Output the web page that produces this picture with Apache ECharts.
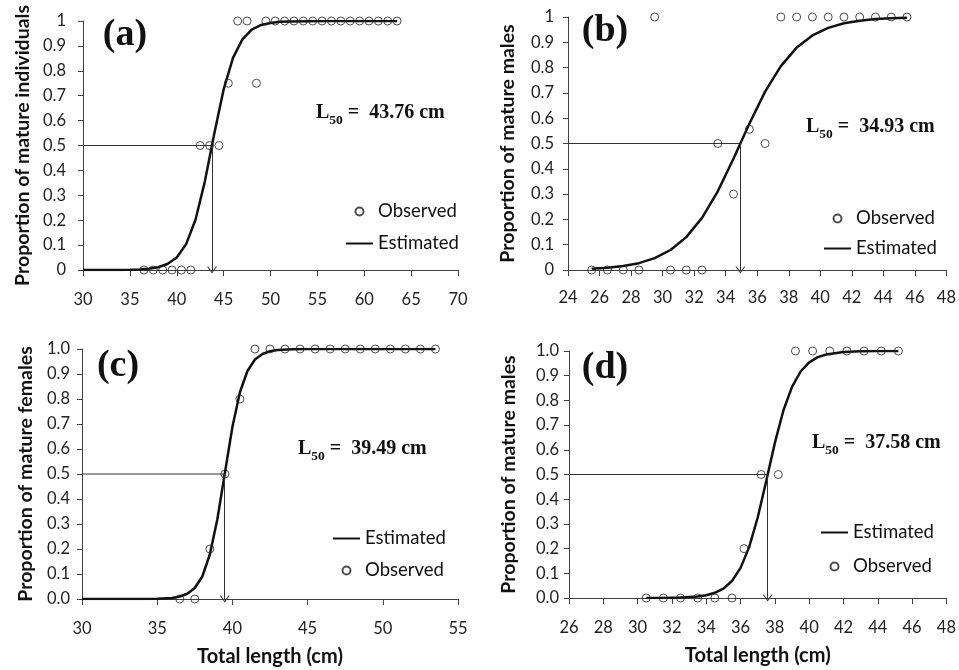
<!DOCTYPE html>
<html>
<head>
<meta charset="utf-8">
<script src="https://cdn.jsdelivr.net/npm/echarts@6/dist/echarts.min.js"></script>
<style>
  html, body { margin: 0; padding: 0; background: #fff; }
  #main { width: 959px; height: 670px; }
</style>
</head>
<body>
<div id="main"></div>
<script>
// panel labels and L50 values
var panelNames = ['(a)', '(b)', '(c)', '(d)'];
var l50 = [43.76, 34.93, 39.49, 37.58];
var yTitles = ['Proportion of mature individuals', 'Proportion of mature males',
               'Proportion of mature females', 'Proportion of mature males'];

// (a) all individuals
var obsAx = [36.5, 37.5, 38.5, 39.5, 40.5, 41.5, 42.5, 43.5, 44.5, 45.5, 46.5, 47.5, 48.5,
             49.5, 50.5, 51.5, 52.5, 53.5, 54.5, 55.5, 56.5, 57.5, 58.5, 59.5, 60.5, 61.5, 62.5, 63.5];
var obsAy = [0, 0, 0, 0, 0, 0, 0.5, 0.5, 0.5, 0.75, 1, 1, 0.75,
             1, 1, 1, 1, 1, 1, 1, 1, 1, 1, 1, 1, 1, 1, 1];
var estAx = [30, 31, 32, 33, 34, 35, 36, 37, 38, 39, 40, 41, 42, 43, 44, 45, 46, 47, 48, 49, 50, 51, 52, 56, 60, 63.5];
var estAy = [0, 0, 0.0001, 0.0002, 0.0005, 0.001, 0.002, 0.005, 0.011, 0.024, 0.05, 0.104, 0.202, 0.356,
             0.547, 0.725, 0.852, 0.926, 0.965, 0.984, 0.992, 0.997, 0.998, 1, 1, 1];

// (b) males
var obsBx = [25.5, 26.5, 27.5, 28.5, 29.5, 30.5, 31.5, 32.5, 33.5, 34.5, 35.5, 36.5,
             37.5, 38.5, 39.5, 40.5, 41.5, 42.5, 43.5, 44.5, 45.5];
var obsBy = [0, 0, 0, 0, 1, 0, 0, 0, 0.5, 0.3, 0.556, 0.5,
             1, 1, 1, 1, 1, 1, 1, 1, 1];
var estBx = [25.5, 26.5, 27.5, 28.5, 29.5, 30.5, 31.5, 32.5, 33.5, 34.5, 35.5, 36.5,
             37.5, 38.5, 39.5, 40.5, 41.5, 42.5, 43.5, 44.5, 45.5];
var estBy = [0.005, 0.009, 0.016, 0.027, 0.047, 0.079, 0.13, 0.206, 0.311, 0.441, 0.578, 0.705,
             0.806, 0.879, 0.927, 0.957, 0.975, 0.985, 0.992, 0.995, 0.997];

// (c) females
var obsCx = [36.5, 37.5, 38.5, 39.5, 40.5, 41.5, 42.5, 43.5, 44.5, 45.5, 46.5, 47.5, 48.5, 49.5, 50.5, 51.5, 52.5, 53.5];
var obsCy = [0, 0, 0.2, 0.5, 0.8, 1, 1, 1, 1, 1, 1, 1, 1, 1, 1, 1, 1, 1];
var estCx = [30, 32, 34, 35, 36, 36.5, 37, 37.5, 38, 38.5, 39, 39.5, 40, 40.5, 41, 41.5, 42, 42.5, 43, 44, 45, 47, 50, 53.5];
var estCy = [0, 0, 0.0002, 0.001, 0.004, 0.01, 0.021, 0.044, 0.09, 0.178, 0.319, 0.504, 0.688, 0.827,
             0.912, 0.958, 0.98, 0.991, 0.996, 0.999, 1, 1, 1, 1];

// (d) males
var obsDx = [30.5, 31.5, 32.5, 33.5, 34.5, 35.5, 36.2, 37.2, 38.2, 39.2, 40.2, 41.2, 42.2, 43.2, 44.2, 45.2];
var obsDy = [0, 0, 0, 0, 0, 0, 0.2, 0.5, 0.5, 1, 1, 1, 1, 1, 1, 1];
var estDx = [30.5, 31.5, 32.5, 33.5, 34, 34.5, 35, 35.5, 36, 36.5, 37, 37.5, 38, 38.5, 39, 39.5, 40, 40.5, 41, 42, 43, 44, 45.2];
var estDy = [0.0001, 0.0005, 0.002, 0.006, 0.011, 0.021, 0.038, 0.069, 0.122, 0.206, 0.326, 0.475, 0.628,
             0.76, 0.855, 0.917, 0.954, 0.975, 0.986, 0.996, 0.999, 1, 1];

// axis ranges
var xMin = [30, 24, 30, 26];
var xMax = [70, 48, 55, 48];
var xStep = [5, 2, 5, 2];

var obs = [[obsAx, obsAy], [obsBx, obsBy], [obsCx, obsCy], [obsDx, obsDy]];
var est = [[estAx, estAy], [estBx, estBy], [estCx, estCy], [estDx, estDy]];

function pairs(xs, ys) {
    return xs.map(function (x, i) { return [x, ys[i]]; });
}

var grids = [
    {left: 83, top: 21, width: 375, height: 249},
    {left: 568, top: 17, width: 379, height: 253},
    {left: 82, top: 349, width: 376, height: 250},
    {left: 569, top: 351, width: 378, height: 247}
];
var yNameGap = [50, 50, 46, 50];
var yLabMargin = [17, 14, 12, 10];
var xLabMargin = [21, 19, 21, 21];
var legendPos = [
    {left: 345, top: 202, gap: 13, data: ['Observed', 'Estimated']},
    {left: 823, top: 209, gap: 11, data: ['Observed', 'Estimated']},
    {left: 332, top: 529, gap: 13, data: ['Estimated', 'Observed']},
    {left: 820, top: 523, gap: 15, data: ['Estimated', 'Observed']}
];
var labelPos = [[125, 35], [605, 31], [118, 366], [605, 368]];
var l50Pos = [[316, 113], [806, 127], [298, 449], [812, 443]];

var axisColor = '#404040';
var sans = 'Lato';
var serif = '"Liberation Serif", "Times New Roman", serif';

var chart = echarts.init(document.getElementById('main'));

var xAxes = [], yAxes = [], series = [], graphic = [];
for (var i = 0; i < 4; i++) {
    xAxes.push({
        type: 'value', gridIndex: i, min: xMin[i], max: xMax[i], interval: xStep[i],
        name: i >= 2 ? 'Total length (cm)' : '',
        nameLocation: 'middle', nameGap: 48,
        nameTextStyle: {fontFamily: sans, fontWeight: 'bold', fontSize: 20, color: '#111'},
        axisLine: {show: true, onZero: false, lineStyle: {color: axisColor, width: 1}},
        axisTick: {show: true, length: 6, lineStyle: {color: axisColor}},
        splitLine: {show: false},
        axisLabel: {fontFamily: sans, fontSize: 16.5, color: '#222', margin: xLabMargin[i]}
    });
    yAxes.push({
        type: 'value', gridIndex: i, min: 0, max: 1, interval: 0.1,
        name: yTitles[i], nameLocation: 'middle', nameGap: yNameGap[i],
        nameTextStyle: {fontFamily: sans, fontWeight: 'bold', fontSize: 19.5, color: '#111'},
        axisLine: {show: true, lineStyle: {color: axisColor, width: 1}},
        axisTick: {show: true, length: 5, lineStyle: {color: axisColor}},
        splitLine: {show: false},
        axisLabel: {
            fontFamily: sans, fontSize: 16.5, color: '#222', margin: yLabMargin[i],
            formatter: i >= 2 ? function (v) { return v.toFixed(1); } : function (v) { return String(+v.toFixed(1)); }
        }
    });
    // reference lines at p = 0.5
    series.push({
        type: 'line', name: 'ref' + i, xAxisIndex: i, yAxisIndex: i,
        data: [[xMin[i], 0.5], [l50[i], 0.5]],
        symbol: 'none', silent: true, z: 2,
        lineStyle: {color: '#333', width: 1},
        markLine: {
            silent: true, symbol: ['none', 'path://M0,10 L5,0 L10,10 L8.8,10 L5,2.6 L1.2,10 Z'],
            symbolSize: [10, 7],
            label: {show: false},
            lineStyle: {color: '#333', width: 1, type: 'solid'},
            data: [[{coord: [l50[i], 0.5]}, {coord: [l50[i], 0]}]]
        }
    });
    series.push({
        type: 'line', name: 'Estimated', xAxisIndex: i, yAxisIndex: i,
        data: pairs(est[i][0], est[i][1]),
        symbol: 'none', smooth: false, z: 3,
        lineStyle: {color: '#111', width: 2.5},
        itemStyle: {color: '#111'}
    });
    series.push({
        type: 'scatter', name: 'Observed', xAxisIndex: i, yAxisIndex: i,
        data: pairs(obs[i][0], obs[i][1]),
        symbol: 'circle', symbolSize: 8, z: 4,
        itemStyle: {color: 'rgba(255,255,255,0)', borderColor: '#222', borderWidth: 1}
    });
    graphic.push({
        type: 'text', x: labelPos[i][0], y: labelPos[i][1],
        style: {text: panelNames[i], font: 'bold 38px ' + serif, fill: '#111',
                align: 'center', verticalAlign: 'middle'}
    });
    graphic.push({
        type: 'text', x: l50Pos[i][0], y: l50Pos[i][1],
        style: {
            text: '{m|L}{s|50}{m| =  ' + l50[i].toFixed(2) + ' cm}',
            verticalAlign: 'middle',
            rich: {
                m: {fontFamily: serif, fontWeight: 'bold', fontSize: 20, lineHeight: 30, fill: '#111', color: '#111'},
                s: {fontFamily: serif, fontWeight: 'bold', fontSize: 13.5, lineHeight: 14,
                    verticalAlign: 'bottom', fill: '#111', color: '#111'}
            }
        }
    });
}

var legends = legendPos.map(function (p) {
    return {
        left: p.left, top: p.top, orient: 'vertical', padding: 0,
        data: p.data.map(function (n) {
            return n === 'Estimated' ? {name: n, itemStyle: {opacity: 0}} : {name: n};
        }),
        itemWidth: 27, itemHeight: 8, itemGap: p.gap, selectedMode: false,
        textStyle: {fontFamily: sans, fontSize: 18.5, color: '#111'}
    };
});

chart.setOption({
    animation: false,
    backgroundColor: '#fff',
    grid: grids,
    xAxis: xAxes,
    yAxis: yAxes,
    legend: legends,
    series: series,
    graphic: graphic
});
</script>
</body>
</html>
